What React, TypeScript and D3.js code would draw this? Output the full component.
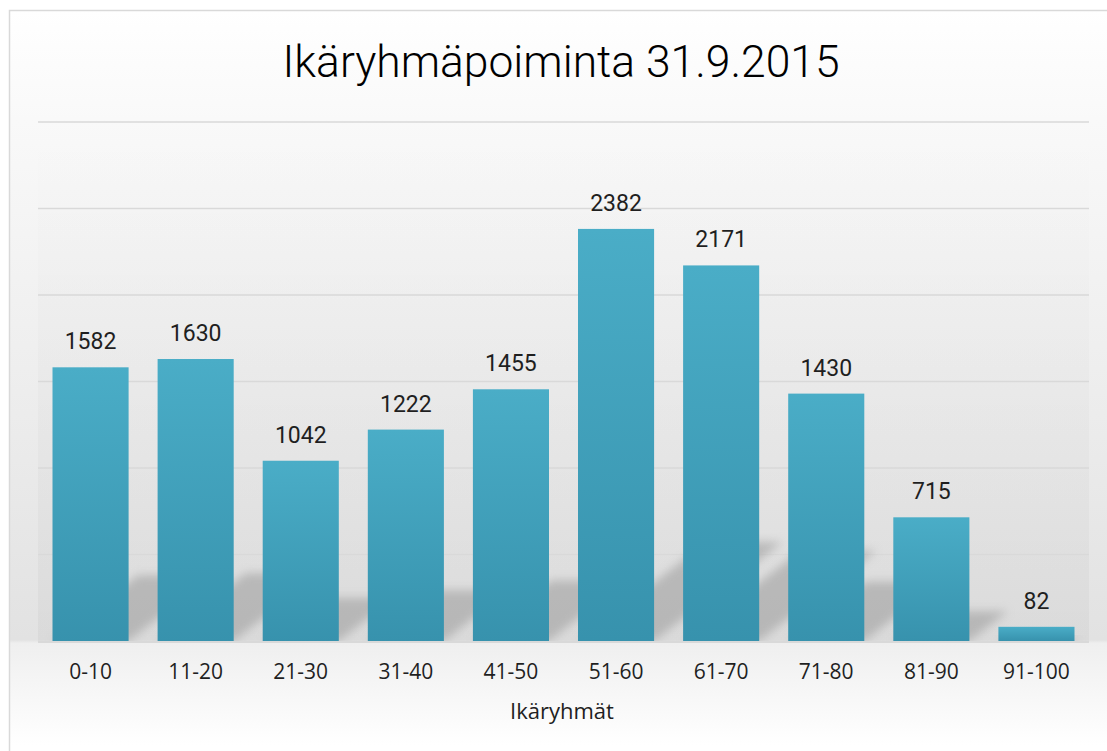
import React from "react";
import * as d3 from "d3";

const categories = ["0-10", "11-20", "21-30", "31-40", "41-50", "51-60", "61-70", "71-80", "81-90", "91-100"];
const values = [1582, 1630, 1042, 1222, 1455, 2382, 2171, 1430, 715, 82];
const gridTicks = [0, 500, 1000, 1500, 2000, 2500, 3000];
const title = "Ikäryhmäpoiminta 31.9.2015";
const axisTitle = "Ikäryhmät";

const W = 1107;
const H = 751;
const plotLeft = 38;
const plotRight = 1089;
const plotTop = 122;
const baseY = 641;

export default function App() {
  const x = d3
    .scaleBand<string>()
    .domain(categories)
    .range([plotLeft, plotRight])
    .paddingInner(0.276)
    .paddingOuter(0.138);
  const y = d3.scaleLinear().domain([0, 3000]).range([baseY, plotTop]);

  return (
    <svg
      width={W}
      height={H}
      style={{ position: "absolute", left: 0, top: 0 }}
      xmlns="http://www.w3.org/2000/svg"
    >
      <defs>
        <linearGradient id="bg" x1="0" y1="0" x2="0" y2={H} gradientUnits="userSpaceOnUse">
          <stop offset={10 / H} stopColor="#ffffff" />
          <stop offset={120 / H} stopColor="#f9f9f9" />
          <stop offset={640 / H} stopColor="#e2e2e2" />
          <stop offset={643 / H} stopColor="#efefef" />
          <stop offset={745 / H} stopColor="#ffffff" />
        </linearGradient>
        <linearGradient id="plotbg" x1="0" y1="0" x2="0" y2="1">
          <stop offset="0" stopColor="#000" stopOpacity="0" />
          <stop offset="1" stopColor="#000" stopOpacity="0.035" />
        </linearGradient>
        <linearGradient id="bar" x1="0" y1="0" x2="0" y2="1">
          <stop offset="0" stopColor="#4aadc7" />
          <stop offset="1" stopColor="#3792ad" />
        </linearGradient>
        <filter id="blur" x="-50%" y="-50%" width="200%" height="200%">
          <feGaussianBlur stdDeviation="5" />
        </filter>
        <clipPath id="plotclip">
          <rect x={plotLeft} y={plotTop} width={plotRight - plotLeft} height={baseY - plotTop} />
        </clipPath>
      </defs>

      <rect x={0} y={0} width={W} height={H} fill="#ffffff" />
      <rect x={9.5} y={10.5} width={W + 20} height={H + 20} fill="url(#bg)" stroke="#d9d9d9" strokeWidth={1.5} />
      <rect
        x={plotLeft}
        y={plotTop}
        width={plotRight - plotLeft}
        height={baseY - plotTop}
        fill="url(#plotbg)"
      />

      <text
        x={561}
        y={77}
        textAnchor="middle"
        fontFamily="Roboto, sans-serif"
        fontWeight={300}
        fontSize={45}
        textLength={557}
        lengthAdjust="spacingAndGlyphs"
        fill="#000000"
      >
        {title}
      </text>

      {gridTicks.slice(1).map((t) => (
        <line
          key={t}
          x1={plotLeft}
          x2={plotRight}
          y1={y(t)}
          y2={y(t)}
          stroke="#d9d9d9"
          strokeWidth={1.5}
        />
      ))}

      <g clipPath="url(#plotclip)">
        {categories.map((c, i) => {
          const x0 = x(c)!;
          const x1 = x0 + x.bandwidth();
          const h = (baseY - y(values[i])) * 0.24;
          const dx = h * 1.3;
          const pts = [
            [x0, baseY],
            [x1, baseY],
            [x1 + dx, baseY - h],
            [x0 + dx, baseY - h],
          ]
            .map((p) => p.join(","))
            .join(" ");
          return <polygon key={c} points={pts} fill="#9a9a9a" opacity={0.55} filter="url(#blur)" />;
        })}
      </g>

      {categories.map((c, i) => (
        <rect
          key={c}
          x={x(c)}
          y={y(values[i])}
          width={x.bandwidth()}
          height={baseY - y(values[i])}
          fill="url(#bar)"
        />
      ))}

      <line x1={plotLeft} x2={plotRight} y1={baseY + 1} y2={baseY + 1} stroke="#d9d9d9" strokeWidth={2} />

      {categories.map((c, i) => (
        <text
          key={c}
          x={x(c)! + x.bandwidth() / 2}
          y={y(values[i]) - 18}
          textAnchor="middle"
          fontFamily="Roboto, sans-serif"
          fontSize={23}
          fill="#1f1f1f"
        >
          {values[i]}
        </text>
      ))}

      {categories.map((c) => (
        <text
          key={c}
          x={x(c)! + x.bandwidth() / 2}
          y={679}
          textAnchor="middle"
          fontFamily="'Open Sans', sans-serif"
          fontSize={21}
          fill="#1f1f1f"
        >
          {c}
        </text>
      ))}

      <text
        x={562}
        y={719}
        textAnchor="middle"
        fontFamily="'Open Sans', sans-serif"
        fontSize={22}
        fill="#1f1f1f"
      >
        {axisTitle}
      </text>
    </svg>
  );
}
